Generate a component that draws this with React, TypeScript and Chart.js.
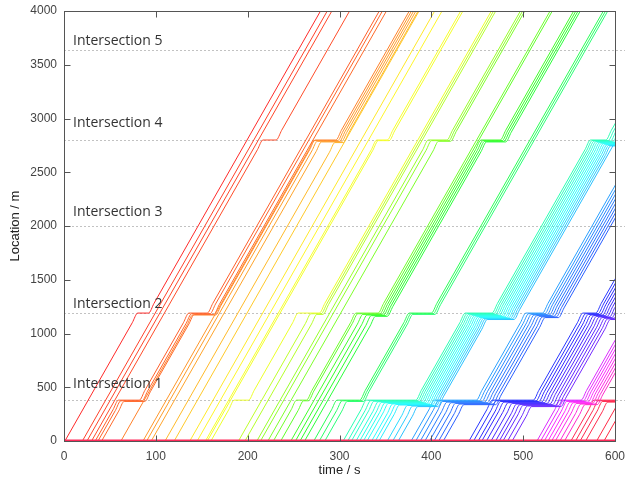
import React, { useEffect, useRef } from 'react';
import { Chart, registerables } from 'chart.js';

Chart.register(...registerables);

// ---------- data ----------
const timeRange = [0, 600];
const locationRange = [0, 4000];
const timeStep = 100;
const locationStep = 500;

const intersectionNames = ['Intersection 1', 'Intersection 2', 'Intersection 3', 'Intersection 4', 'Intersection 5'];
const intersectionLocations = [380, 1190, 2000, 2800, 3640];
const intersectionLabelLocations = [530, 1277, 2133, 2960, 3721];

// free-flow speed read from the slope of the trajectories (m/s)
const freeSpeed = 15;

// origin queue drawn along the bottom (time, location)
const originQueueTimes = [0, 600];
const originQueueLocations = [0, 0];

// each vehicle: [entry time, stopLocation, departTime, stopLocation, departTime, ...]
const vehicles: number[][] = [
  // red
  [1, 1190, 92],
  [20],
  [25],
  [30, 2800, 231],
  // orange-red
  [34, 380, 82, 1190, 156],
  [37, 374, 85, 1184, 159],
  [41, 368, 88, 1178, 163],
  [62, 1172, 165, 2800, 296],
  // orange
  [86, 2794, 298],
  [90, 2788, 300],
  [95, 2782, 302],
  [110, 2776, 304],
  [120],
  // yellow
  [137],
  [145],
  [154, 2800, 352],
  [156, 2794, 354],
  [160, 380, 201, 1190, 278],
  // yellow-green
  [190, 1184, 280],
  [197, 1178, 282],
  [210, 2800, 417],
  [214, 2794, 419],
  [222, 2788, 421],
  // green
  [228, 380, 264, 1190, 342],
  [236, 374, 266, 1184, 344],
  [247, 1178, 346, 2800, 475],
  [252, 1172, 348, 2794, 477],
  [257, 1166, 350, 2788, 479],
  [262, 1160, 352, 2782, 481],
  // spring green
  [272, 380, 322, 1190, 400],
  [278, 374, 324, 1184, 402],
  [284, 368, 326, 1178, 404],
  // cyan
  [304, 380, 383, 1190, 466, 2800, 590],
  [309, 375, 385, 1185, 468, 2795, 592.5],
  [313, 370, 387, 1180, 470, 2790, 595],
  [318, 365, 389, 1175, 472, 2785, 597.5],
  [322, 360, 391, 1170, 474, 2780, 600],
  [326, 355, 393, 1165, 476, 2775, 602.5],
  [330, 350, 395, 1160, 478, 2770, 605],
  [335, 345, 397, 1155, 480, 2765, 607.5],
  [339, 340, 399, 1150, 482, 2760, 610],
  [343, 335, 401, 1145, 484, 2755, 612.5],
  [352, 330, 403, 1140, 486, 2750, 615],
  [358, 325, 405, 1135, 488, 2745, 617.5],
  [364, 320, 407, 1130, 490],
  // blue
  [378, 380, 449, 1190, 521],
  [383, 374, 452, 1184, 523.5],
  [388, 368, 455, 1178, 526],
  [393, 362, 458, 1172, 528.5],
  [398, 356, 461, 1166, 531],
  [403, 350, 464, 1160, 533.5],
  [408, 344, 467, 1154, 536],
  [413, 338, 470, 1148, 538.5],
  // violet
  [441, 380, 511, 1190, 579],
  [446, 374, 514, 1184, 581.5],
  [451, 368, 517, 1178, 584],
  [455, 362, 520, 1172, 586.5],
  [460, 356, 523, 1166, 589],
  [465, 350, 526, 1160, 591.5],
  [470, 344, 529, 1154, 594],
  [474, 338, 532, 1148, 596.5],
  [478, 332, 535, 1142, 599],
  [483, 326, 538, 1136, 601.5],
  [488, 320, 541, 1130, 604],
  // magenta
  [515, 380, 563],
  [519, 374, 565.5],
  [523, 368, 568],
  [527, 362, 570.5],
  [531, 356, 573],
  [535, 350, 575.5],
  [540, 344, 578],
  [545, 338, 580.5],
  // red again
  [552, 380, 620],
  [557, 374, 620],
  [562, 368, 620],
  [568, 362, 620],
  [580],
  [588],
];

// colour ramp (entry time -> hue)
const hueTimes = [0, 30, 35, 60, 90, 120, 140, 165, 200, 240, 280, 320, 360, 390, 420, 450, 490, 520, 545, 552, 600];
const hueValues = [0, 10, 16, 24, 32, 45, 55, 68, 82, 108, 138, 172, 195, 215, 228, 240, 262, 295, 315, 348, 355];

// ---------- helpers ----------
function hueFor(t: number): number {
  for (let i = 1; i < hueTimes.length; i++) {
    if (t <= hueTimes[i]) {
      const f = (t - hueTimes[i - 1]) / (hueTimes[i] - hueTimes[i - 1]);
      return hueValues[i - 1] + f * (hueValues[i] - hueValues[i - 1]);
    }
  }
  return hueValues[hueValues.length - 1];
}

const EASE = 6;
function buildPath(v: number[]) {
  const end = locationRange[1];
  const pts: { x: number; y: number }[] = [];
  let t = v[0];
  let x = 0;
  pts.push({ x: t, y: 0 });
  for (let i = 1; i + 1 < v.length; i += 2) {
    const loc = v[i];
    const dep = v[i + 1];
    const arr = t + (loc - x) / freeSpeed;
    if (arr >= dep) continue;
    if (arr - EASE > t + 0.5) pts.push({ x: arr - EASE, y: loc - EASE * freeSpeed });
    pts.push({ x: arr, y: loc });
    pts.push({ x: dep, y: loc });
    pts.push({ x: dep + EASE, y: loc + EASE * freeSpeed });
    t = dep + EASE;
    x = loc + EASE * freeSpeed;
  }
  pts.push({ x: t + (end - x) / freeSpeed, y: end });
  return pts;
}

const overlayPlugin = {
  id: 'overlay',
  beforeDatasetsDraw(chart: any) {
    const { ctx, chartArea } = chart;
    const y = chart.scales.y;
    ctx.save();
    ctx.strokeStyle = '#c2c2c2';
    ctx.lineWidth = 1;
    ctx.setLineDash([2, 2]);
    intersectionLocations.forEach((loc) => {
      const py = Math.round(y.getPixelForValue(loc)) + 0.5;
      ctx.beginPath();
      ctx.moveTo(chartArea.left, py);
      ctx.lineTo(chart.width, py);
      ctx.stroke();
    });
    ctx.restore();
  },
  afterDatasetsDraw(chart: any) {
    const { ctx, chartArea } = chart;
    const xs = chart.scales.x;
    const ys = chart.scales.y;
    ctx.save();
    // labels
    ctx.fillStyle = '#333';
    ctx.font = '14px "Open Sans", "Noto Sans", sans-serif';
    ctx.textBaseline = 'middle';
    ctx.textAlign = 'left';
    intersectionNames.forEach((name, i) => {
      ctx.fillText(name, chartArea.left + 9, ys.getPixelForValue(intersectionLabelLocations[i]));
    });
    // frame
    ctx.strokeStyle = '#555';
    ctx.lineWidth = 1;
    const l = Math.round(chartArea.left) + 0.5;
    const r = Math.round(chartArea.right) + 0.5;
    const t = Math.round(chartArea.top) + 0.5;
    const b = Math.round(chartArea.bottom) + 0.5;
    ctx.strokeRect(l, t, r - l, b - t);
    const len = 6;
    ctx.beginPath();
    xs.ticks.forEach((tk: any) => {
      const px = Math.round(xs.getPixelForValue(tk.value)) + 0.5;
      if (px <= l + 1 || px >= r - 1) return;
      ctx.moveTo(px, b); ctx.lineTo(px, b - len);
      ctx.moveTo(px, t); ctx.lineTo(px, t + len);
    });
    ys.ticks.forEach((tk: any) => {
      const py = Math.round(ys.getPixelForValue(tk.value)) + 0.5;
      if (py <= t + 1 || py >= b - 1) return;
      ctx.moveTo(l, py); ctx.lineTo(l + len, py);
      ctx.moveTo(r, py); ctx.lineTo(r - len, py);
    });
    ctx.stroke();
    ctx.restore();
  },
};

export default function App() {
  const ref = useRef<HTMLCanvasElement | null>(null);
  useEffect(() => {
    if (!ref.current) return;
    Chart.defaults.font.family = '"Liberation Sans", Arial, sans-serif';
    const datasets: any[] = [];
    datasets.push({
      data: originQueueTimes.map((t, i) => ({ x: t, y: originQueueLocations[i] })),
      borderColor: '#ff2a5a',
      borderWidth: 3,
      tension: 0,
    });
    vehicles.forEach((v) => {
      datasets.push({
        data: buildPath(v),
        borderColor: `hsl(${hueFor(v[0]).toFixed(1)}, 100%, 58%)`,
        borderWidth: 1,
        cubicInterpolationMode: 'monotone',
      });
    });
    const chart = new Chart(ref.current, {
      type: 'line',
      data: { datasets },
      options: {
        animation: false,
        responsive: false,
        events: [],
        layout: { padding: { left: 0, right: 10, top: 11, bottom: 0 } },
        elements: { point: { radius: 0 } },
        plugins: { legend: { display: false }, tooltip: { enabled: false } },
        scales: {
          x: {
            type: 'linear',
            min: timeRange[0],
            max: timeRange[1],
            ticks: { stepSize: timeStep, color: '#444', font: { size: 12 }, padding: 8, callback: (v: any) => String(v) },
            grid: { display: false, drawTicks: false },
            border: { display: false },
            title: { display: true, text: 'time / s', color: '#222', font: { size: 13 }, padding: { top: 0, bottom: 6 } },
            afterFit: (s: any) => { s.height = 43; s.paddingLeft = 0; s.paddingRight = 0; },
          },
          y: {
            type: 'linear',
            min: locationRange[0],
            max: locationRange[1],
            ticks: { stepSize: locationStep, color: '#444', font: { size: 12 }, padding: 7, callback: (v: any) => String(v) },
            grid: { display: false, drawTicks: false },
            border: { display: false },
            title: { display: true, text: 'Location / m', color: '#222', font: { size: 13 }, padding: { top: 8, bottom: 0 } },
            afterFit: (s: any) => { s.width = 64; s.paddingTop = 0; s.paddingBottom = 0; },
          },
        },
      } as any,
      plugins: [overlayPlugin],
    });
    return () => chart.destroy();
  }, []);
  return (
    <div style={{ position: 'fixed', left: 0, top: 0, width: 625, height: 484, background: '#fff' }}>
      <canvas ref={ref} width={625} height={484} style={{ display: 'block' }} />
    </div>
  );
}
